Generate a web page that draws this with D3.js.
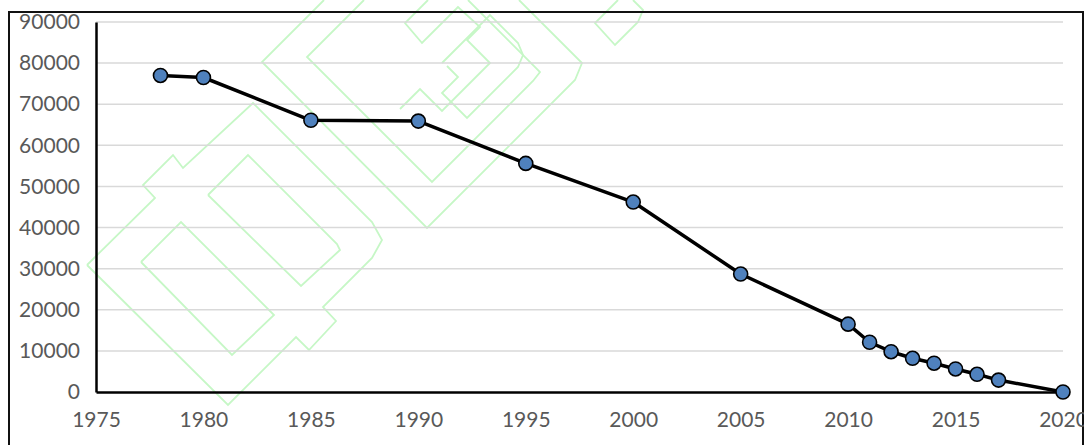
<!DOCTYPE html>
<html>
<head>
<meta charset="utf-8">
<script src="https://cdn.jsdelivr.net/npm/d3@7"></script>
<style>
  html, body { margin: 0; padding: 0; background: #fff; }
  svg { display: block; }
  text { font-family: Lato, "Open Sans", sans-serif; fill: #595959; }
</style>
</head>
<body>
<svg id="chart" width="1084" height="445"></svg>
<script>
// ---- data ----
const years  = [1978, 1980, 1985, 1990, 1995, 2000, 2005, 2010, 2011, 2012, 2013, 2014, 2015, 2016, 2017, 2020];
const values = [77000, 76500, 66100, 65900, 55600, 46200, 28700, 16500, 12100, 9800, 8200, 7000, 5600, 4300, 2900, 0];
const xTicks = [1975, 1980, 1985, 1990, 1995, 2000, 2005, 2010, 2015, 2020];
const yTicks = [0, 10000, 20000, 30000, 40000, 50000, 60000, 70000, 80000, 90000];

// decorative watermark outlines (background only, not data)
const watermark = [
  [[87,265],[155,198],[143,185],[173,155],[183,168],[253,103],[372,222],[382,240],[372,258],[323,307],[336,321],[309,350],[296,337],[228,405],[87,265]],
  [[141,262],[181,222],[274,315],[232,355],[141,262]],
  [[208,195],[248,155],[337,244],[340,250],[301,286],[208,195]],
  [[324,0],[262,62],[427,228],[575,80],[582,63],[519,0]],
  [[364,0],[307,57],[432,182],[533,81],[540,72],[468,0]],
  [[428,0],[405,23],[422,43],[458,7],[480,27],[467,40],[490,63],[442,111],[420,89],[400,109]],
  [[442,63],[490,15],[518,43],[523,55],[518,67],[467,118],[442,93],[458,77],[447,66]],
  [[618,0],[595,23],[615,45],[638,22],[643,10],[633,0]],
];

const svg = d3.select("#chart");

// watermark
const wm = svg.append("g").attr("fill", "none").attr("stroke", "#c6f7c6").attr("stroke-width", 1.8);
wm.selectAll("path").data(watermark).join("path")
  .attr("d", d => d3.line()(d));

// outer frame
svg.append("rect").attr("x", 9).attr("y", 12).attr("width", 1074).attr("height", 460)
  .attr("fill", "none").attr("stroke", "#111").attr("stroke-width", 2);

const x = d3.scaleLinear().domain([1975, 2020]).range([96, 1063]);
const y = d3.scaleLinear().domain([0, 90000]).range([392, 22]);

// gridlines
svg.append("g").selectAll("line").data(yTicks.filter(v => v > 0)).join("line")
  .attr("x1", x(1975)).attr("x2", x(2020))
  .attr("y1", d => y(d)).attr("y2", d => y(d))
  .attr("stroke", "#d9d9d9").attr("stroke-width", 1.5);

// y axis
const yAxis = svg.append("g").attr("transform", `translate(${x(1975)},0)`)
  .call(d3.axisLeft(y).tickValues(yTicks).tickSize(0).tickPadding(16).tickFormat(d3.format("d")));
yAxis.select(".domain").attr("stroke", "#000").attr("stroke-width", 2.5);
yAxis.selectAll("text").style("font-size", "21px").attr("fill", "#595959");

// x axis
const xAxis = svg.append("g").attr("transform", `translate(0,${y(0)})`)
  .call(d3.axisBottom(x).tickValues(xTicks).tickSize(0).tickPadding(20).tickFormat(d3.format("d")));
xAxis.select(".domain").attr("stroke", "#000").attr("stroke-width", 2.5);
xAxis.selectAll("text").style("font-size", "21px").attr("fill", "#595959");

// line
const pts = years.map((yr, i) => [yr, values[i]]);
svg.append("path").datum(pts)
  .attr("fill", "none").attr("stroke", "#000").attr("stroke-width", 3.5)
  .attr("stroke-linejoin", "round")
  .attr("d", d3.line().x(d => x(d[0])).y(d => y(d[1])));

svg.append("g").selectAll("circle").data(pts).join("circle")
  .attr("cx", d => x(d[0])).attr("cy", d => y(d[1])).attr("r", 7)
  .attr("fill", "#4f81bd").attr("stroke", "#000").attr("stroke-width", 1.6);
</script>
</body>
</html>
